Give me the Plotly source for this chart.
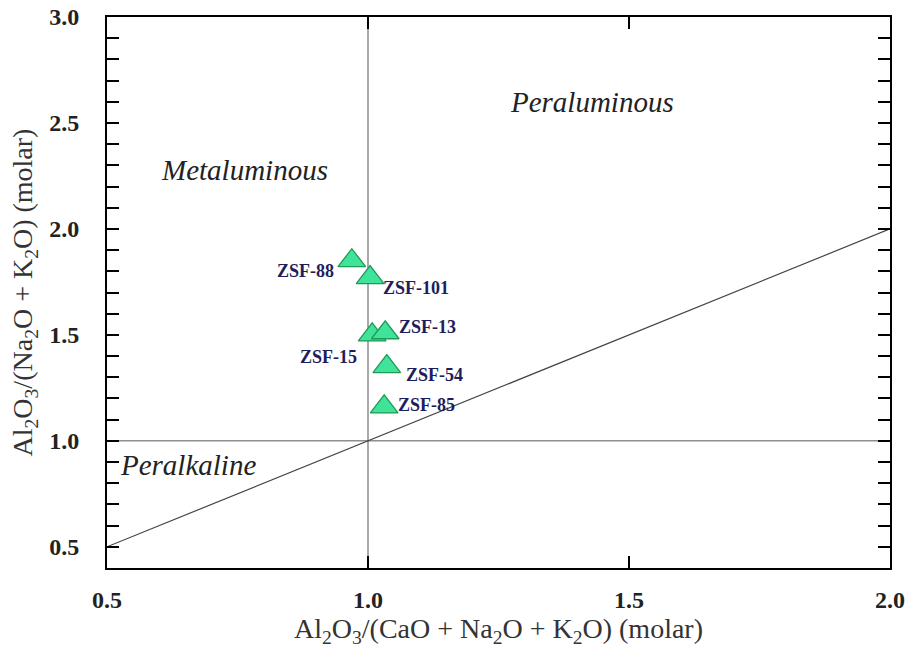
import plotly.graph_objects as go

samples = ["ZSF-88", "ZSF-101", "ZSF-15", "ZSF-13", "ZSF-54", "ZSF-85"]
acnk = [0.969, 1.004, 1.008, 1.033, 1.036, 1.031]
ank = [1.85, 1.77, 1.50, 1.51, 1.35, 1.16]
label_offsets = [(-46, 10), (46, 10), (-44, 22), (42, -6), (48, 8), (42, -2)]

regions = ["Metaluminous", "Peraluminous", "Peralkaline"]
region_x = [0.764, 1.429, 0.655]
region_y = [2.28, 2.60, 0.887]

x_ticks = [0.5, 1.0, 1.5, 2.0]
y_ticks = [0.5, 1.0, 1.5, 2.0, 2.5, 3.0]

serif = "Liberation Serif"

fig = go.Figure()

# boundary lines
fig.add_trace(go.Scatter(x=[1.0, 1.0], y=[0.4, 3.0], mode="lines",
                         line=dict(color="#555555", width=1), hoverinfo="skip", showlegend=False))
fig.add_trace(go.Scatter(x=[0.5, 2.0], y=[1.0, 1.0], mode="lines",
                         line=dict(color="#555555", width=1), hoverinfo="skip", showlegend=False))
fig.add_trace(go.Scatter(x=[0.5, 2.0], y=[0.5, 2.0], mode="lines",
                         line=dict(color="#444444", width=1.2), hoverinfo="skip", showlegend=False))

fig.add_trace(go.Scatter(x=acnk, y=ank, mode="markers", text=samples,
                         marker=dict(symbol="triangle-up", size=24, color="#3fe39a",
                                     line=dict(color="#1f9a55", width=1.3)),
                         showlegend=False))

annotations = []
for s, x, y, (dx, dy) in zip(samples, acnk, ank, label_offsets):
    annotations.append(dict(x=x, y=y, xref="x", yref="y", text="<b>" + s + "</b>", showarrow=False,
                            xshift=dx, yshift=-dy,
                            font=dict(family=serif, size=18, color="#1e1e5c")))
for r, x, y in zip(regions, region_x, region_y):
    annotations.append(dict(x=x, y=y, xref="x", yref="y", text="<i>" + r + "</i>",
                            showarrow=False, font=dict(family=serif, size=29, color="#222222")))

fig.update_layout(
    width=906, height=654,
    margin=dict(l=107, r=16, t=17, b=86),
    plot_bgcolor="white", paper_bgcolor="white",
    annotations=annotations,
    xaxis=dict(range=[0.5, 2.0], tickvals=x_ticks, ticktext=[f"<b>{v:.1f}</b>" for v in x_ticks],
               ticks="inside", ticklen=12, tickwidth=2, tickcolor="black",
               showline=True, linecolor="black", linewidth=2, mirror="ticks",
               showgrid=False, zeroline=False, ticklabelstandoff=9, automargin=False,
               tickfont=dict(family=serif, size=24, color="#222222"),
               title=dict(text="Al<sub>2</sub>O<sub>3</sub>/(CaO + Na<sub>2</sub>O + K<sub>2</sub>O) (molar)",
                          font=dict(family=serif, size=28, color="#333333"), standoff=6)),
    yaxis=dict(range=[0.4, 3.0], tickvals=y_ticks, ticktext=[f"<b>{v:.1f}</b>" for v in y_ticks],
               ticks="inside", ticklen=12, tickwidth=2, tickcolor="black",
               minor=dict(dtick=0.1, tick0=0.5, ticks="inside", ticklen=12, tickwidth=2, tickcolor="black"),
               showline=True, linecolor="black", linewidth=2, mirror="ticks",
               showgrid=False, zeroline=False, ticklabelstandoff=21, automargin=False,
               tickfont=dict(family=serif, size=24, color="#222222"),
               title=dict(text="Al<sub>2</sub>O<sub>3</sub>/(Na<sub>2</sub>O + K<sub>2</sub>O) (molar)",
                          font=dict(family=serif, size=28, color="#333333"), standoff=8)),
)

fig.write_html("out.html", config={"displayModeBar": False},
               post_script="document.body.style.margin='0';")
